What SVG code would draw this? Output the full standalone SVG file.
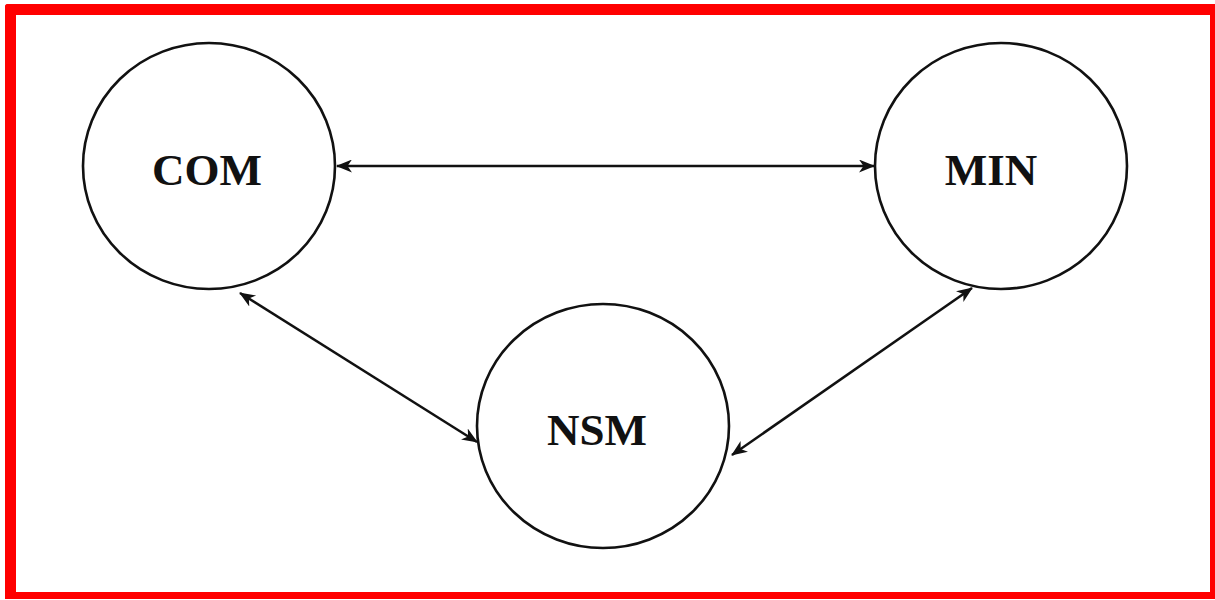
<svg xmlns="http://www.w3.org/2000/svg" width="1215" height="600" viewBox="0 0 1215 600">
<style>
.node ellipse{fill:#fff;stroke:#111;stroke-width:2.6}
.node text{font-family:"Liberation Serif","Times New Roman",serif;font-weight:bold;font-size:45px;fill:#111;text-anchor:middle}
.conn line{stroke:#111;stroke-width:2.5;fill:none}
.frame{fill:#ff0000}
</style>
<defs>
<marker id="ah" viewBox="0 0 16 13" refX="15" refY="6.5" markerWidth="16" markerHeight="13" markerUnits="userSpaceOnUse" orient="auto-start-reverse">
<path d="M0,0 L16,6.5 L0,13 L4.5,6.5 z" fill="#111"/>
</marker>
</defs>
<rect width="1215" height="600" fill="#fff"/>
<g id="frame">
<rect class="frame" x="5" y="4" width="1210" height="11" rx="3"/>
<rect class="frame" x="5" y="4" width="11" height="594" rx="3"/>
<rect class="frame" x="5" y="592" width="1210" height="7"/>
<rect class="frame" x="1210" y="4" width="5" height="595"/>
</g>
<g class="conn" id="connectors">
<line x1="337" y1="166" x2="874" y2="166" marker-start="url(#ah)" marker-end="url(#ah)"/>
<line x1="240" y1="293" x2="477" y2="442" marker-start="url(#ah)" marker-end="url(#ah)"/>
<line x1="732" y1="455" x2="972" y2="288" marker-start="url(#ah)" marker-end="url(#ah)"/>
</g>
<g class="node" id="node-com">
<ellipse cx="209" cy="166" rx="126" ry="123"/>
<text x="207" y="185">COM</text>
</g>
<g class="node" id="node-min">
<ellipse cx="1001" cy="166" rx="126" ry="123"/>
<text x="991" y="185">MIN</text>
</g>
<g class="node" id="node-nsm">
<ellipse cx="603" cy="426" rx="126" ry="122"/>
<text x="597" y="445">NSM</text>
</g>
</svg>
